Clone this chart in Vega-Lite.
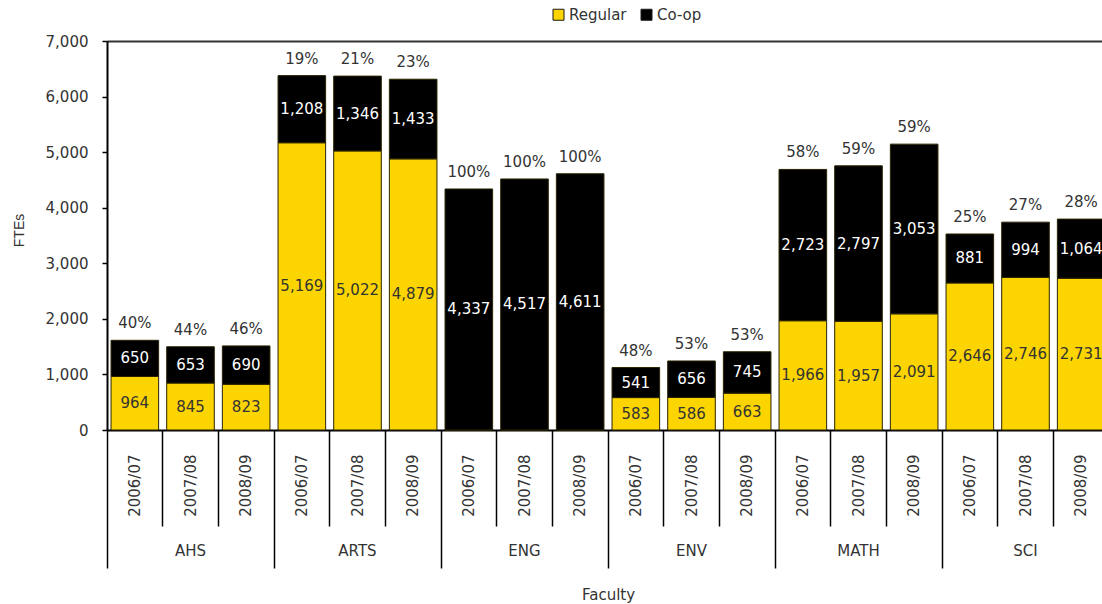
{
  "$schema": "https://vega.github.io/schema/vega-lite/v6.json",
  "width": 995,
  "height": 389,
  "autosize": {"type": "none"},
  "padding": {"left": 107, "top": 41, "right": 0, "bottom": 174},
  "background": "white",
  "config": {
    "view": {"stroke": null},
    "font": "DejaVu Sans",
    "axis": {"labelFont": "DejaVu Sans", "labelColor": "#333333", "labelFontSize": 15, "titleFont": "DejaVu Sans", "titleFontWeight": "normal", "titleColor": "#333333", "titleFontSize": 15},
    "legend": {"labelFont": "DejaVu Sans", "labelFontSize": 15, "labelColor": "#333333"}
  },
  "data": {
    "values": [
      {"faculty": "AHS", "year": "2006/07", "type": "Regular", "value": 964},
      {"faculty": "AHS", "year": "2006/07", "type": "Co-op", "value": 650, "pct": "40%"},
      {"faculty": "AHS", "year": "2007/08", "type": "Regular", "value": 845},
      {"faculty": "AHS", "year": "2007/08", "type": "Co-op", "value": 653, "pct": "44%"},
      {"faculty": "AHS", "year": "2008/09", "type": "Regular", "value": 823},
      {"faculty": "AHS", "year": "2008/09", "type": "Co-op", "value": 690, "pct": "46%"},
      {"faculty": "ARTS", "year": "2006/07", "type": "Regular", "value": 5169},
      {"faculty": "ARTS", "year": "2006/07", "type": "Co-op", "value": 1208, "pct": "19%"},
      {"faculty": "ARTS", "year": "2007/08", "type": "Regular", "value": 5022},
      {"faculty": "ARTS", "year": "2007/08", "type": "Co-op", "value": 1346, "pct": "21%"},
      {"faculty": "ARTS", "year": "2008/09", "type": "Regular", "value": 4879},
      {"faculty": "ARTS", "year": "2008/09", "type": "Co-op", "value": 1433, "pct": "23%"},
      {"faculty": "ENG", "year": "2006/07", "type": "Regular", "value": 0},
      {"faculty": "ENG", "year": "2006/07", "type": "Co-op", "value": 4337, "pct": "100%"},
      {"faculty": "ENG", "year": "2007/08", "type": "Regular", "value": 0},
      {"faculty": "ENG", "year": "2007/08", "type": "Co-op", "value": 4517, "pct": "100%"},
      {"faculty": "ENG", "year": "2008/09", "type": "Regular", "value": 0},
      {"faculty": "ENG", "year": "2008/09", "type": "Co-op", "value": 4611, "pct": "100%"},
      {"faculty": "ENV", "year": "2006/07", "type": "Regular", "value": 583},
      {"faculty": "ENV", "year": "2006/07", "type": "Co-op", "value": 541, "pct": "48%"},
      {"faculty": "ENV", "year": "2007/08", "type": "Regular", "value": 586},
      {"faculty": "ENV", "year": "2007/08", "type": "Co-op", "value": 656, "pct": "53%"},
      {"faculty": "ENV", "year": "2008/09", "type": "Regular", "value": 663},
      {"faculty": "ENV", "year": "2008/09", "type": "Co-op", "value": 745, "pct": "53%"},
      {"faculty": "MATH", "year": "2006/07", "type": "Regular", "value": 1966},
      {"faculty": "MATH", "year": "2006/07", "type": "Co-op", "value": 2723, "pct": "58%"},
      {"faculty": "MATH", "year": "2007/08", "type": "Regular", "value": 1957},
      {"faculty": "MATH", "year": "2007/08", "type": "Co-op", "value": 2797, "pct": "59%"},
      {"faculty": "MATH", "year": "2008/09", "type": "Regular", "value": 2091},
      {"faculty": "MATH", "year": "2008/09", "type": "Co-op", "value": 3053, "pct": "59%"},
      {"faculty": "SCI", "year": "2006/07", "type": "Regular", "value": 2646},
      {"faculty": "SCI", "year": "2006/07", "type": "Co-op", "value": 881, "pct": "25%"},
      {"faculty": "SCI", "year": "2007/08", "type": "Regular", "value": 2746},
      {"faculty": "SCI", "year": "2007/08", "type": "Co-op", "value": 994, "pct": "27%"},
      {"faculty": "SCI", "year": "2008/09", "type": "Regular", "value": 2731},
      {"faculty": "SCI", "year": "2008/09", "type": "Co-op", "value": 1064, "pct": "28%"}
    ]
  },
  "transform": [
    {"calculate": "datum.faculty + '|' + datum.year", "as": "bar"}
  ],
  "resolve": {"axis": {"x": "independent", "y": "independent"}},
  "layer": [
    {
      "mark": {"type": "bar", "stroke": "#2a2400", "strokeWidth": 1},
      "encoding": {
        "x": {
          "field": "bar", "type": "nominal",
          "scale": {
            "domain": ["AHS|2006/07", "AHS|2007/08", "AHS|2008/09", "ARTS|2006/07", "ARTS|2007/08", "ARTS|2008/09", "ENG|2006/07", "ENG|2007/08", "ENG|2008/09", "ENV|2006/07", "ENV|2007/08", "ENV|2008/09", "MATH|2006/07", "MATH|2007/08", "MATH|2008/09", "SCI|2006/07", "SCI|2007/08", "SCI|2008/09"],
            "range": [0, 1002], "paddingInner": 0.145, "paddingOuter": 0.0725
          },
          "axis": {"orient": "bottom", "title": null, "labelAngle": 270, "labelExpr": "split(datum.value, '|')[1]", "ticks": false, "domainColor": "#000000", "domainWidth": 2, "labelPadding": 24}
        },
        "y": {
          "field": "value", "type": "quantitative", "stack": "zero",
          "scale": {"domain": [0, 7000], "nice": false},
          "axis": {"orient": "left", "values": [0, 1000, 2000, 3000, 4000, 5000, 6000, 7000], "labelExpr": "format(datum.value, ',.0f')", "grid": false, "title": "FTEs", "titleFont": "Liberation Sans", "titleFontSize": 14, "titleX": -88, "titleY": 189, "titleAngle": 270, "titleAlign": "center", "titleBaseline": "middle", "domainColor": "#000000", "domainWidth": 2, "tickColor": "#000000", "tickWidth": 1.5, "tickSize": 5, "labelPadding": 14}
        },
        "color": {
          "field": "type", "type": "nominal",
          "scale": {"domain": ["Regular", "Co-op"], "range": ["#FCD500", "#000000"]},
          "legend": {"orient": "none", "legendX": 444, "legendY": -34, "direction": "horizontal", "title": null, "symbolType": "square", "symbolSize": 121, "symbolStrokeColor": "#1a1a1a", "symbolStrokeWidth": 1, "columnPadding": 12, "labelOffset": 3}
        },
        "order": {"field": "type", "sort": "descending"}
      }
    },
    {
      "transform": [
        {"filter": "datum.value > 0"},
        {"stack": "value", "groupby": ["bar"], "sort": [{"field": "type", "order": "descending"}], "as": ["v0", "v1"]},
        {"calculate": "(datum.v0 + datum.v1) / 2", "as": "mid"}
      ],
      "mark": {"type": "text", "fontSize": 15, "baseline": "middle", "align": "center"},
      "encoding": {
        "x": {
          "field": "bar", "type": "nominal",
          "axis": {"orient": "bottom", "title": "Faculty", "titlePadding": 29, "values": ["AHS|2007/08", "ARTS|2007/08", "ENG|2007/08", "ENV|2007/08", "MATH|2007/08", "SCI|2007/08"], "labelExpr": "split(datum.value, '|')[0]", "labelAngle": 0, "labelAlign": "center", "labelBaseline": "top", "ticks": false, "domain": false, "labelPadding": 113}
        },
        "y": {"field": "mid", "type": "quantitative", "axis": null},
        "text": {"field": "value", "type": "quantitative", "format": ","},
        "color": {"condition": {"test": "datum.type == 'Co-op'", "value": "#ffffff"}, "value": "#333333"}
      }
    },
    {
      "transform": [
        {"joinaggregate": [{"op": "sum", "field": "value", "as": "total"}], "groupby": ["bar"]},
        {"filter": "datum.type == 'Co-op'"}
      ],
      "mark": {"type": "text", "fontSize": 15, "baseline": "bottom", "align": "center", "dy": -9, "color": "#333333"},
      "encoding": {
        "x": {
          "field": "bar", "type": "nominal",
          "axis": {"orient": "bottom", "title": null, "labels": false, "domain": false, "bandPosition": -0.084, "tickExtra": false, "tickColor": "#000000", "tickWidth": 1.5, "tickSize": {"condition": {"test": "split(datum.value, '|')[1] == '2006/07'", "value": 138}, "value": 96}}
        },
        "y": {
          "field": "total", "type": "quantitative",
          "axis": {"orient": "left", "values": [7000], "grid": true, "gridColor": "#333333", "gridWidth": 2, "labels": false, "ticks": false, "domain": false, "title": null}
        },
        "text": {"field": "pct", "type": "nominal"}
      }
    }
  ]
}
